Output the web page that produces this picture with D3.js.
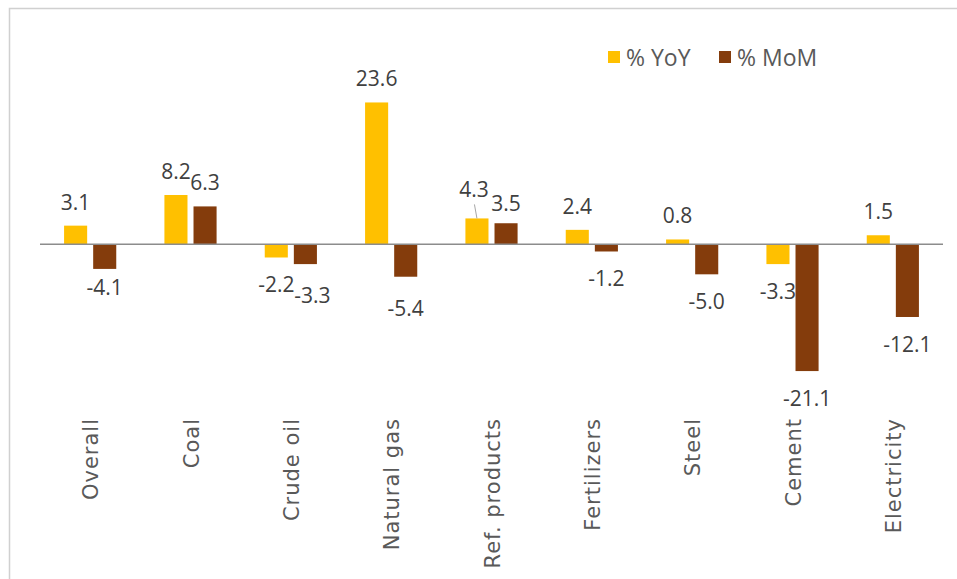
<!DOCTYPE html>
<meta charset="utf-8">
<style>
body, html {
  padding: 0;
  margin: 0;
  background: #fff;
}
svg text {
  font-family: "Open Sans", sans-serif;
}
.val {
  font-size: 21px;
  fill: #404040;
}
svg text.cat {
  font-family: "DejaVu Sans", sans-serif;
  font-size: 21px;
  fill: #595959;
  letter-spacing: 1px;
}
.legend text {
  font-size: 23px;
  fill: #595959;
}
</style>
<body>
<script src="https://d3js.org/d3.v7.min.js"></script>
<script>

var width = 957,
    height = 579

var categories = ["Overall", "Coal", "Crude oil", "Natural gas", "Ref. products", "Fertilizers", "Steel", "Cement", "Electricity"]
var seriesNames = ["% YoY", "% MoM"]
var yoy = [3.1, 8.2, -2.2, 23.6, 4.3, 2.4, 0.8, -3.3, 1.5]
var mom = [-4.1, 6.3, -3.3, -5.4, 3.5, -1.2, -5.0, -21.1, -12.1]
var colors = ["#ffc000", "#843c0c"]

// labels that were dragged away from Excel's default spot: [series, category, dx, dy]
var nudges = [
  [0, "Ref. products", -3, -5],
  [1, "Ref. products", 0, 4],
  [1, "Overall", 0, -9],
  [1, "Crude oil", 7, 4],
  [1, "Natural gas", 0, 4]
]

var rows = categories.map(function (c, i) {
  return {category: c, values: [yoy[i], mom[i]]}
})

var fmt = function (v) { return d3.format(".1f")(v).replace("\u2212", "-") }

var svg = d3.select("body").append("svg")
    .attr("width", width)
    .attr("height", height)

// chart frame
svg.append("rect")
    .attr("x", 9.5)
    .attr("y", 8.5)
    .attr("width", width + 20)
    .attr("height", height + 20)
    .attr("fill", "none")
    .attr("stroke", "#d0d0d0")
    .attr("stroke-width", 1.5)

var x = d3.scaleBand()
    .domain(categories)
    .range([40, 943])

var y = d3.scaleLinear()
    .domain([-25, 30])
    .range([394.5, 64])

var groupW = x.bandwidth() * 0.52
var x1 = d3.scaleBand()
    .domain([0, 1])
    .range([(x.bandwidth() - groupW) / 2, (x.bandwidth() + groupW) / 2])
    .paddingInner(0.207)

var groups = svg.append("g").selectAll("g")
    .data(rows)
    .join("g")
    .attr("transform", function (d) { return "translate(" + x(d.category) + ",0)" })

groups.selectAll("rect")
    .data(function (d) { return d.values.map(function (v, s) { return {v: v, s: s} }) })
    .join("rect")
    .attr("x", function (d) { return x1(d.s) })
    .attr("width", x1.bandwidth())
    .attr("y", function (d) { return Math.min(y(d.v), y(0)) })
    .attr("height", function (d) { return Math.abs(y(d.v) - y(0)) })
    .attr("fill", function (d) { return colors[d.s] })

// zero line
svg.append("line")
    .attr("x1", x.range()[0])
    .attr("x2", x.range()[1])
    .attr("y1", y(0))
    .attr("y2", y(0))
    .attr("stroke", "#8c8c8c")
    .attr("stroke-width", 1.5)

// value labels
groups.each(function (row) {
  var g = d3.select(this)
  row.values.forEach(function (v, s) {
    var cx = x1(s) + x1.bandwidth() / 2
    var ty = v >= 0 ? y(v) - 16 : y(v) + 35
    var nd = nudges.find(function (n) { return n[0] === s && n[1] === row.category })
    var dx = nd ? nd[2] : 0, dy = nd ? nd[3] : 0
    if (nd && dx !== 0 && v >= 0) {
      g.append("line")
          .attr("x1", cx - 2.5).attr("y1", y(v) - 14)
          .attr("x2", cx).attr("y2", y(v))
          .attr("stroke", "#a6a6a6")
          .attr("stroke-width", 1)
    }
    g.append("text")
        .attr("class", "val")
        .attr("x", cx + dx)
        .attr("y", ty + dy)
        .attr("text-anchor", "middle")
        .text(fmt(v))
  })
})

// category labels, rotated
svg.append("g").selectAll("text")
    .data(categories)
    .join("text")
    .attr("class", "cat")
    .attr("text-anchor", "end")
    .attr("transform", function (d) {
      return "translate(" + (x(d) + x.bandwidth() / 2 + 8) + ",418) rotate(-90)"
    })
    .text(function (d) { return d })

// legend
var legend = svg.append("g").attr("class", "legend")
var legendX = [608, 719]
seriesNames.forEach(function (name, i) {
  legend.append("rect")
      .attr("x", legendX[i])
      .attr("y", 51)
      .attr("width", 12)
      .attr("height", 12)
      .attr("fill", colors[i])
  legend.append("text")
      .attr("x", legendX[i] + 18)
      .attr("y", 66)
      .text(name)
})

</script>
</body>
